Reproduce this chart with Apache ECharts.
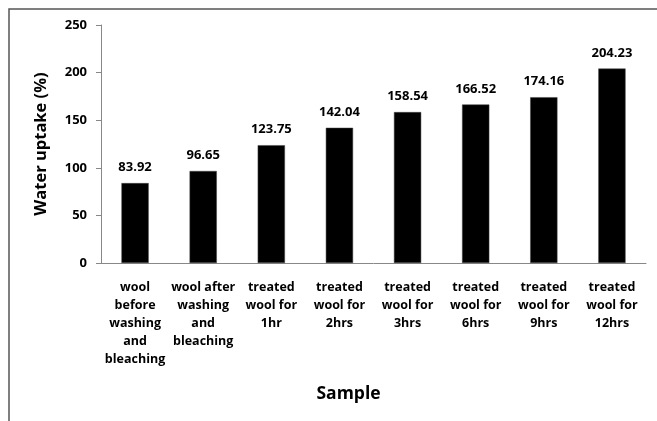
<!DOCTYPE html>
<html>
<head>
<meta charset="utf-8">
<script src="https://cdn.jsdelivr.net/npm/echarts@6/dist/echarts.min.js"></script>
<style>
  html, body { margin: 0; padding: 0; background: #fff; }
  #chart { width: 657px; height: 421px; }
</style>
</head>
<body>
<div id="chart"></div>
<script>
const samples = [
  'wool\nbefore\nwashing\nand\nbleaching',
  'wool after\nwashing\nand\nbleaching',
  'treated\nwool for\n1hr',
  'treated\nwool for\n2hrs',
  'treated\nwool for\n3hrs',
  'treated\nwool for\n6hrs',
  'treated\nwool for\n9hrs',
  'treated\nwool for\n12hrs'
]
const uptake = [83.92, 96.65, 123.75, 142.04, 158.54, 166.52, 174.16, 204.23]

const font = '"Open Sans", sans-serif'
const chart = echarts.init(document.getElementById('chart'))

chart.setOption({
  animation: false,
  grid: { left: 101, right: 11, top: 25, bottom: 158 },
  graphic: [{
    type: 'rect',
    shape: { x: 9, y: 9, width: 700, height: 500 },
    style: { fill: 'none', stroke: '#555', lineWidth: 1.5 },
    silent: true
  }],
  xAxis: {
    type: 'category',
    data: samples,
    name: 'Sample',
    nameLocation: 'middle',
    nameGap: 122,
    nameTextStyle: {
      fontFamily: font, fontWeight: 'bold', fontSize: 17.5, color: '#000',
      padding: [0, 50, 0, 0]
    },
    axisLine: { lineStyle: { color: '#888' } },
    axisTick: { length: 5, lineStyle: { color: '#888' } },
    axisLabel: {
      interval: 0, margin: 15, lineHeight: 18,
      fontFamily: font, fontWeight: 'bold', fontSize: 12.5, color: '#000'
    }
  },
  yAxis: {
    type: 'value',
    min: 0, max: 250, interval: 50,
    name: 'Water uptake (%)',
    nameLocation: 'middle',
    nameGap: 51,
    nameTextStyle: { fontFamily: font, fontWeight: 'bold', fontSize: 16.5, color: '#000' },
    axisLine: { show: true, lineStyle: { color: '#888' } },
    axisTick: { show: true, length: 5, lineStyle: { color: '#888' } },
    splitLine: { show: false },
    axisLabel: { margin: 14, fontFamily: font, fontWeight: 'bold', fontSize: 13, color: '#000' }
  },
  series: [{
    type: 'bar',
    data: uptake,
    barWidth: '40%',
    itemStyle: { color: '#000', borderColor: '#444', borderWidth: 0.5 },
    label: {
      show: true, position: 'top', distance: 9,
      fontFamily: font, fontWeight: 'bold', fontSize: 13, color: '#000',
      formatter: (p) => p.value.toFixed(2)
    }
  }]
})
</script>
</body>
</html>
